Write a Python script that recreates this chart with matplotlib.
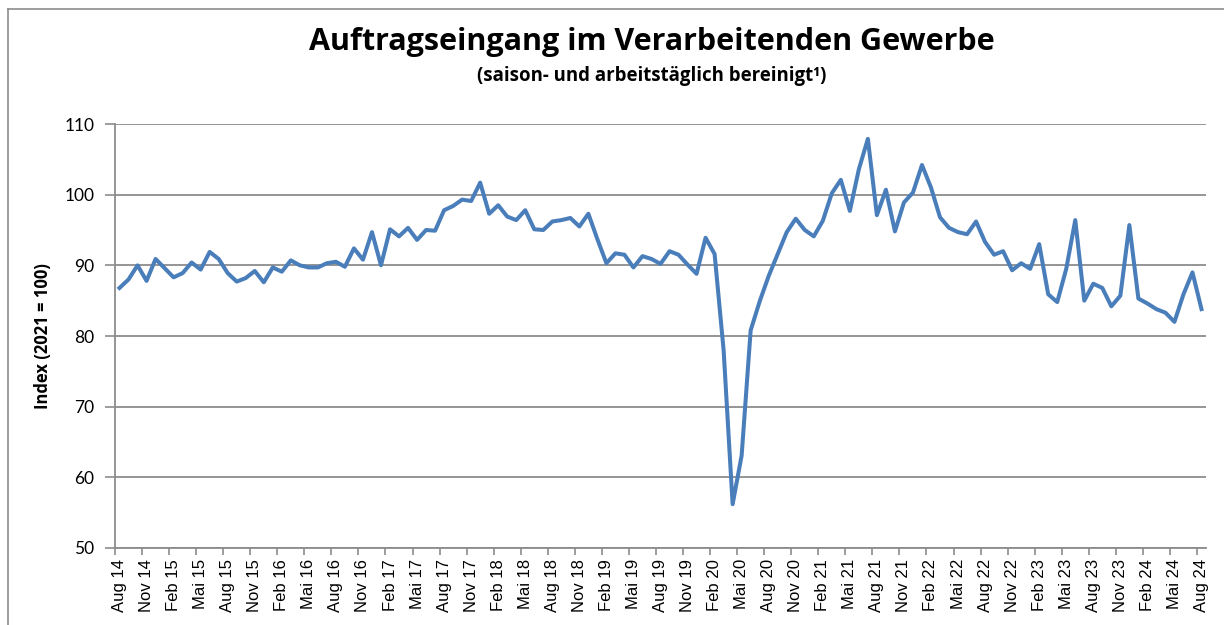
import numpy as np
import matplotlib.pyplot as plt
from matplotlib.lines import Line2D

# Auftragseingang, Index 2021 = 100, monatlich Aug 2014 bis Aug 2024
index_values = [
    86.8, 88.0, 90.0, 87.8, 90.9,
    89.6, 88.3, 88.9, 90.4, 89.4, 91.9, 90.9, 88.9, 87.7, 88.2, 89.2, 87.6,
    89.7, 89.1, 90.7, 90.0, 89.7, 89.7, 90.3, 90.5, 89.8, 92.4, 90.8, 94.7,
    90.0, 95.1, 94.1, 95.3, 93.6, 95.0, 94.9, 97.8, 98.4, 99.3, 99.1, 101.7,
    97.3, 98.5, 96.9, 96.4, 97.8, 95.1, 95.0, 96.2, 96.4, 96.7, 95.5, 97.3,
    93.7, 90.3, 91.7, 91.5, 89.7, 91.3, 90.9, 90.2, 92.0, 91.5, 90.1, 88.8,
    93.9, 91.6, 78.0, 56.2, 63.1, 80.8, 84.9, 88.5, 91.6, 94.7, 96.6, 95.0,
    94.1, 96.3, 100.2, 102.1, 97.7, 103.6, 107.9, 97.1, 100.7, 94.8, 98.9, 100.3,
    104.2, 101.0, 96.8, 95.3, 94.7, 94.4, 96.2, 93.3, 91.5, 92.0, 89.3, 90.3,
    89.5, 93.0, 85.9, 84.8, 89.5, 96.4, 85.0, 87.4, 86.8, 84.2, 85.7, 95.7,
    85.3, 84.6, 83.8, 83.3, 82.0, 85.9, 89.0, 83.8,
]

month_names = ['Jan', 'Feb', 'Mrz', 'Apr', 'Mai', 'Jun',
               'Jul', 'Aug', 'Sep', 'Okt', 'Nov', 'Dez']
months = []
for k in range(len(index_values)):
    m = (7 + k) % 12
    y = 14 + (7 + k) // 12
    months.append(f'{month_names[m]} {y}')

y_ticks = [50, 60, 70, 80, 90, 100, 110]

W, H = 1224, 625


def main():
    fig = plt.figure(figsize=(W / 100, H / 100), dpi=100)
    ax = fig.add_axes([115 / W, 1 - 548 / H, (1206 - 115) / W, (548 - 124) / H])

    x = np.arange(len(index_values)) + 0.5
    ax.plot(x, index_values, color='#4a7ebb', lw=2.9, solid_joinstyle='round', zorder=3)

    ax.set_xlim(0, len(index_values))
    ax.set_ylim(50, 110)

    grid_c = '#8c8c8c'
    ax.set_yticks(y_ticks)
    ax.set_yticklabels([str(v) for v in y_ticks], family='Lato', fontsize=12.5)
    ax.yaxis.grid(True, color=grid_c, lw=1.3)
    ax.set_axisbelow(True)
    ax.tick_params(axis='y', length=7, width=1.2, color=grid_c, pad=8)

    # labels every 3 months at category centres, tick marks at boundaries
    lab_idx = list(range(0, len(index_values), 3))
    ax.set_xticks([i + 0.5 for i in lab_idx])
    ax.set_xticklabels([months[i] for i in lab_idx], rotation=90,
                       family='Liberation Sans', fontsize=12)
    ax.tick_params(axis='x', which='major', length=0, pad=8)
    ax.set_xticks(lab_idx, minor=True)
    ax.tick_params(axis='x', which='minor', length=5, width=1.2, color=grid_c)

    for s in ['top', 'right']:
        ax.spines[s].set_visible(False)
    for s in ['left', 'bottom']:
        ax.spines[s].set_color(grid_c)
        ax.spines[s].set_linewidth(1.3)

    ax.set_ylabel('Index (2021 = 100)', family='Open Sans', fontweight='bold',
                  fontsize=12, labelpad=9)

    fig.text(652 / W, 1 - 42 / H, 'Auftragseingang im Verarbeitenden Gewerbe',
             ha='center', va='center', family='Open Sans', fontweight='bold', fontsize=22)
    fig.text(652 / W, 1 - 76 / H, '(saison- und arbeitstäglich bereinigt¹)',
             ha='center', va='center', family='Open Sans', fontweight='bold', fontsize=13.4)

    # outer chart frame
    fig.add_artist(Line2D([8 / W, 8 / W], [0, 1 - 9 / H], transform=fig.transFigure,
                          color='#8c8c8c', lw=1.2))
    fig.add_artist(Line2D([8 / W, 1], [1 - 9 / H, 1 - 9 / H], transform=fig.transFigure,
                          color='#8c8c8c', lw=1.2))

    fig.savefig('out.png', dpi=100)


if __name__ == "__main__":
    main()
